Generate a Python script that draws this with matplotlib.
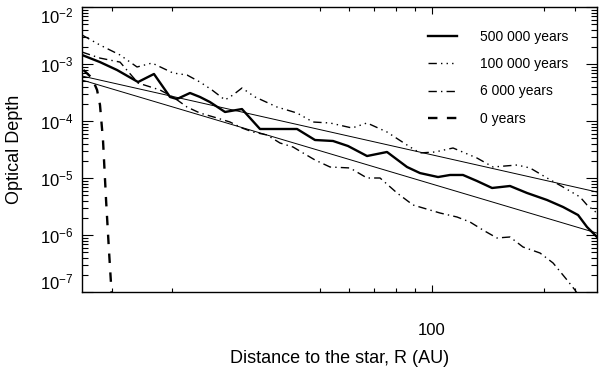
import numpy as np
import matplotlib
matplotlib.use("Agg")
import matplotlib.pyplot as plt
from matplotlib.ticker import FixedLocator, NullFormatter

plt.rcParams['font.family'] = ['Liberation Sans', 'DejaVu Sans']
plt.rcParams['mathtext.fontset'] = 'custom'
plt.rcParams['mathtext.rm'] = 'Liberation Sans'
plt.rcParams['mathtext.it'] = 'Liberation Sans:italic'

# distances (AU) and optical depths
r_500k = [11.46, 12.81, 14.23, 16.21, 17.89, 19.76, 20.63, 22.36, 23.78, 25.30,
          27.77, 30.84, 34.48, 43.37, 48.47, 54.19, 59.46, 66.88, 75.68, 85.66,
          92.83, 103.8, 111.8, 121.1, 132.1, 145.0, 162.0, 180.0, 203.8, 225.0,
          246.9, 261.0, 277.6]
tau_500k = [1.44e-3, 1.08e-3, 7.85e-4, 4.83e-4, 6.68e-4, 2.64e-4, 2.43e-4, 3.10e-4, 2.64e-4, 2.15e-4,
            1.44e-4, 1.62e-4, 7.24e-5, 7.24e-5, 4.64e-5, 4.46e-5, 3.64e-5, 2.43e-5, 2.86e-5, 1.56e-5,
            1.22e-5, 1.04e-5, 1.13e-5, 1.13e-5, 8.86e-6, 6.68e-6, 7.24e-6, 5.46e-6, 4.11e-6, 3.10e-6,
            2.24e-6, 1.38e-6, 9.23e-7]

r_100k = [11.46, 12.81, 14.50, 16.11, 17.68, 20.13, 21.95, 23.78, 25.62, 27.77,
          29.17, 30.84, 33.44, 38.31, 43.37, 47.87, 53.19, 60.96, 66.88, 75.68,
          87.28, 92.83, 101.9, 113.9, 132.1, 145.9, 169.2, 183.4, 203.8, 225.0,
          250.0, 261.0, 277.6]
tau_100k = [3.23e-3, 2.15e-3, 1.44e-3, 8.86e-4, 1.04e-3, 6.95e-4, 6.41e-4, 4.83e-4, 3.50e-4, 2.34e-4,
            2.86e-4, 3.79e-4, 2.64e-4, 1.76e-4, 1.38e-4, 9.60e-5, 9.23e-5, 7.54e-5, 9.23e-5, 6.41e-5,
            3.50e-5, 2.75e-5, 2.86e-5, 3.36e-5, 2.24e-5, 1.56e-5, 1.69e-5, 1.50e-5, 1.00e-5, 6.95e-6,
            4.64e-6, 3.36e-6, 2.43e-6]

r_6k = [11.46, 12.81, 14.50, 16.21, 18.57, 20.13, 21.95, 23.78, 26.42, 28.64,
        30.84, 33.02, 36.02, 39.03, 42.30, 45.00, 48.47, 53.19, 60.20, 66.88,
        72.48, 80.53, 88.90, 105.1, 116.7, 126.5, 137.1, 149.5, 162.0, 175.6,
        195.1, 211.5, 230.7, 242.3, 258.0]
tau_6k = [1.62e-3, 1.27e-3, 1.08e-3, 4.64e-4, 3.50e-4, 2.64e-4, 1.76e-4, 1.38e-4, 1.13e-4, 9.60e-5,
          7.54e-5, 6.41e-5, 5.68e-5, 4.11e-5, 3.50e-5, 2.75e-5, 2.07e-5, 1.56e-5, 1.50e-5, 1.00e-5,
          1.00e-5, 5.46e-6, 3.36e-6, 2.43e-6, 2.07e-6, 1.69e-6, 1.22e-6, 8.86e-7, 9.23e-7, 6.16e-7,
          4.83e-7, 3.23e-7, 1.62e-7, 1.08e-7, 5.9e-8]

r_0 = [11.56, 12.19, 12.58, 12.81, 13.05, 13.30, 13.54, 13.80]
tau_0 = [7.85e-4, 5.68e-4, 3.50e-4, 1.91e-4, 4.64e-5, 4.11e-6, 5.46e-7, 7.24e-8]

# two straight power-law reference lines (end points)
r_fit = [11.46, 277.6]
tau_fit_a = [6.15e-4, 5.68e-6]
tau_fit_b = [5.24e-4, 1.08e-6]

x_minor = [13.8, 20, 50, 60, 70, 80, 90, 200, 242]
y_major = [1e-7, 1e-6, 1e-5, 1e-4, 1e-3, 1e-2]
y_labels = ['$10^{-7}$', '$10^{-6}$', '$10^{-5}$', '$10^{-4}$', '$10^{-3}$', '$10^{-2}$']

fig = plt.figure(figsize=(6, 3.71), dpi=100)
ax = fig.add_axes([82/600, 79/371, 515/600, 285/371])

ax.plot(r_500k, tau_500k, color='black', lw=1.7, label='500 000 years')
ax.plot(r_100k, tau_100k, color='black', lw=1.0, ls=(0, (6, 3, 1, 3, 1, 3, 1, 3)), label='100 000 years')
ax.plot(r_6k, tau_6k, color='black', lw=1.0, ls=(0, (6, 3, 1, 3)), label='6 000 years')
ax.plot(r_0, tau_0, color='black', lw=1.7, ls=(0, (4, 4)), label='0 years')
ax.plot(r_fit, tau_fit_a, color='black', lw=0.7)
ax.plot(r_fit, tau_fit_b, color='black', lw=0.7)

ax.set_xscale('log')
ax.set_yscale('log')
ax.set_xlim(11.46, 277.6)
ax.set_ylim(1e-7, 1e-2)

ax.xaxis.set_major_locator(FixedLocator([100]))
ax.xaxis.set_minor_locator(FixedLocator(x_minor))
ax.xaxis.set_major_formatter(plt.FixedFormatter(['100']))
ax.xaxis.set_minor_formatter(NullFormatter())
ax.yaxis.set_major_locator(FixedLocator(y_major))
ax.yaxis.set_major_formatter(plt.FixedFormatter(y_labels))
ax.yaxis.set_minor_locator(FixedLocator([m * 10.0**e for e in range(-7, -2) for m in range(2, 10)]))
ax.yaxis.set_minor_formatter(NullFormatter())

ax.tick_params(which='both', direction='in', top=True, right=True, width=0.8, color='black')
ax.tick_params(axis='x', which='major', length=5, pad=22, labelsize=12)
ax.tick_params(axis='x', which='minor', length=3)
ax.tick_params(axis='y', which='major', length=8, pad=6, labelsize=12)
ax.tick_params(axis='y', which='minor', length=4)
for s in ax.spines.values():
    s.set_linewidth(1.0)

labels = ax.get_yticklabels()
labels[-1].set_verticalalignment('top')
labels[0].set_verticalalignment('bottom')

ax.set_xlabel('Distance to the star, R (AU)', fontsize=13, labelpad=9)
ax.set_ylabel('Optical Depth', fontsize=13, labelpad=12)

ax.legend(loc='upper left', bbox_to_anchor=(0.672, 0.920), frameon=False, fontsize=10,
          handlelength=2.1, handletextpad=1.65, labelspacing=0.96, borderpad=0, borderaxespad=0)

fig.savefig('out.png', dpi=100)
